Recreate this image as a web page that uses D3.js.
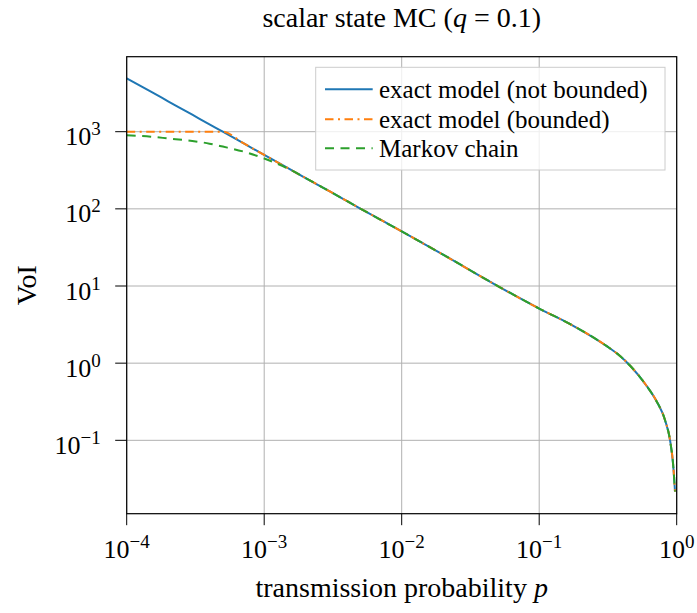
<!DOCTYPE html>
<html>
<head>
<meta charset="utf-8">
<script src="https://cdn.jsdelivr.net/npm/d3@7"></script>
<style>
  body { margin: 0; background: white; }
  svg { display: block; font-family: "Liberation Serif", "DejaVu Serif", serif; }
</style>
</head>
<body>
<div id="chart"></div>
<script>
// data
const pValues = [1e-4, 1.5e-4, 2e-4, 3e-4, 4e-4, 5e-4, 7e-4, 1e-3, 1.5e-3, 2e-3, 3e-3, 5e-3,
  1e-2, 2e-2, 5e-2, 0.1, 0.177, 0.31, 0.387, 0.457, 0.605, 0.715, 0.822, 0.894, 0.945, 0.972];
const exactNotBounded = [4920, 3300, 2480, 1660, 1245, 1000, 715, 500, 334, 251, 168, 101,
  51, 25.5, 10.0, 5.1, 3.05, 1.66, 1.24, 0.933, 0.506, 0.319, 0.1835, 0.101, 0.0455, 0.0217];
const exactBounded = [1000, 1000, 1000, 1000, 1000, 1000, 715, 500, 334, 251, 168, 101,
  51, 25.5, 10.0, 5.1, 3.05, 1.66, 1.24, 0.933, 0.506, 0.319, 0.1835, 0.101, 0.0455, 0.0217];
const markovChain = [900, 862, 818, 759, 700, 641, 555, 450, 330, 251, 168, 101,
  51, 25.5, 10.0, 5.1, 3.05, 1.66, 1.24, 0.933, 0.506, 0.319, 0.1835, 0.101, 0.0455, 0.0217];
const xTicks = [1e-4, 1e-3, 1e-2, 1e-1, 1];
const yTicks = [1e-1, 1, 10, 100, 1000];
const seriesNames = ["exact model (not bounded)", "exact model (bounded)", "Markov chain"];

const W = 697, H = 613;
const plotL = 126.7, plotR = 676.7, plotT = 56.7, plotB = 513.7;

const svg = d3.select("#chart").append("svg")
  .attr("width", W)
  .attr("height", H);

// log scales on both axes
const x = d3.scaleLog().domain([1e-4, 1]).range([plotL, plotR]);
const y = d3.scaleLog().domain([Math.pow(10, -1.951), Math.pow(10, 3.972)]).range([plotB, plotT]);

// grid
svg.append("g").selectAll("line").data(xTicks).enter().append("line")
  .attr("x1", d => x(d)).attr("x2", d => x(d))
  .attr("y1", plotT).attr("y2", plotB)
  .attr("stroke", "#b0b0b0").attr("stroke-width", 1);
svg.append("g").selectAll("line").data(yTicks).enter().append("line")
  .attr("x1", plotL).attr("x2", plotR)
  .attr("y1", d => y(d)).attr("y2", d => y(d))
  .attr("stroke", "#b0b0b0").attr("stroke-width", 1);

// clip lines to the plot area
svg.append("clipPath").attr("id", "plot-clip")
  .append("rect").attr("x", plotL).attr("y", plotT)
  .attr("width", plotR - plotL).attr("height", plotB - plotT);

const series = [
  { name: seriesNames[0], values: exactNotBounded, color: "#1f77b4", dash: null },
  { name: seriesNames[1], values: exactBounded, color: "#ff7f0e", dash: "8.5,4.5,2,4.5" },
  { name: seriesNames[2], values: markovChain, color: "#2ca02c", dash: "9,6.5" }
];

const line = d3.line()
  .x(d => x(d[0]))
  .y(d => y(d[1]))
  .curve(d3.curveMonotoneX);

const plot = svg.append("g").attr("clip-path", "url(#plot-clip)");
series.forEach(s => {
  plot.append("path")
    .datum(pValues.map((p, i) => [p, s.values[i]]))
    .attr("fill", "none")
    .attr("stroke", s.color)
    .attr("stroke-width", 2)
    .attr("stroke-dasharray", s.dash)
    .attr("d", line);
});

// frame
svg.append("rect")
  .attr("x", plotL).attr("y", plotT)
  .attr("width", plotR - plotL).attr("height", plotB - plotT)
  .attr("fill", "none").attr("stroke", "#000").attr("stroke-width", 1.2);

// ticks (outward)
svg.append("g").selectAll("line").data(xTicks).enter().append("line")
  .attr("x1", d => x(d)).attr("x2", d => x(d))
  .attr("y1", plotB).attr("y2", plotB + 11.5)
  .attr("stroke", "#000").attr("stroke-width", 1);
svg.append("g").selectAll("line").data(yTicks).enter().append("line")
  .attr("x1", plotL - 11.5).attr("x2", plotL)
  .attr("y1", d => y(d)).attr("y2", d => y(d))
  .attr("stroke", "#000").attr("stroke-width", 1);

// "10^k" labels with superscript exponent
function powLabel(sel, k) {
  sel.append("tspan").text("10");
  sel.append("tspan")
    .attr("dy", -10)
    .attr("font-size", 19)
    .text(k < 0 ? "\u2212" + (-k) : String(k));
}

svg.append("g").selectAll("text").data(xTicks).enter().append("text")
  .attr("x", d => x(d))
  .attr("y", plotB + 44)
  .attr("text-anchor", "middle")
  .attr("font-size", 26)
  .each(function(d) { powLabel(d3.select(this), Math.round(Math.log10(d))); });

svg.append("g").selectAll("text").data(yTicks).enter().append("text")
  .attr("x", plotL - 26)
  .attr("y", d => y(d) + 13.5)
  .attr("text-anchor", "end")
  .attr("font-size", 26)
  .each(function(d) { powLabel(d3.select(this), Math.round(Math.log10(d))); });

// axis labels and title
const xl = svg.append("text")
  .attr("x", (plotL + plotR) / 2)
  .attr("y", 597)
  .attr("text-anchor", "middle")
  .attr("font-size", 28);
xl.append("tspan").text("transmission probability ");
xl.append("tspan").attr("font-style", "italic").text("p");

svg.append("text")
  .attr("transform", `translate(36,${(plotT + plotB) / 2}) rotate(-90)`)
  .attr("text-anchor", "middle")
  .attr("font-size", 28)
  .text("VoI");

const title = svg.append("text")
  .attr("x", (plotL + plotR) / 2)
  .attr("y", 27)
  .attr("text-anchor", "middle")
  .attr("font-size", 28);
title.append("tspan").text("scalar state MC (");
title.append("tspan").attr("font-style", "italic").text("q");
title.append("tspan").text(" = 0.1)");

// legend
const legend = svg.append("g");
legend.append("rect")
  .attr("x", 315.7).attr("y", 67.3)
  .attr("width", 665 - 315.7).attr("height", 170 - 67.3)
  .attr("fill", "white").attr("fill-opacity", 0.8)
  .attr("stroke", "#cccccc").attr("stroke-width", 1);

const rowY = [89.3, 119.3, 148.3];
series.forEach((s, i) => {
  legend.append("line")
    .attr("x1", 325).attr("x2", 372.7)
    .attr("y1", rowY[i]).attr("y2", rowY[i])
    .attr("stroke", s.color).attr("stroke-width", 2)
    .attr("stroke-dasharray", s.dash);
  legend.append("text")
    .attr("x", 379)
    .attr("y", rowY[i] + 8.5)
    .attr("font-size", 25)
    .text(s.name);
});
</script>
</body>
</html>
